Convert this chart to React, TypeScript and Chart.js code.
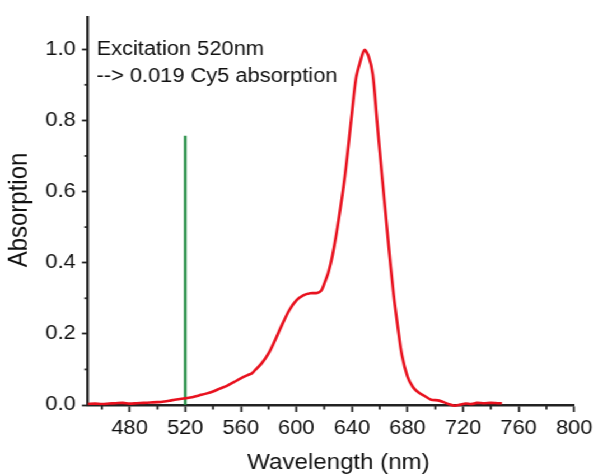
import { useEffect, useRef } from 'react';
import { Chart, registerables } from 'chart.js';

Chart.register(...registerables);

// ---- data ----
const wavelengths = [
  450, 455, 460, 465, 470, 475, 480, 485, 490, 495, 500, 505, 510, 515, 520, 525, 530, 535, 540,
  545, 550, 555, 560, 565, 568, 570, 575, 580, 585, 590, 595, 600, 605, 610, 615, 618, 620, 623,
  626, 630, 635, 640, 643, 646, 649, 652, 655, 658, 662, 666, 670, 673, 676, 680, 684, 688, 692,
  697, 702, 706, 710, 714, 718, 722, 726, 730, 735, 740, 745, 748,
];
const absorption = [
  0.003, 0.004, 0.003, 0.004, 0.005, 0.006, 0.004, 0.005, 0.006, 0.007, 0.008, 0.01, 0.013, 0.016,
  0.019, 0.022, 0.027, 0.032, 0.038, 0.046, 0.054, 0.064, 0.075, 0.084, 0.089, 0.097, 0.117,
  0.145, 0.185, 0.228, 0.267, 0.294, 0.308, 0.314, 0.315, 0.322, 0.34, 0.372, 0.42, 0.51, 0.645,
  0.82, 0.92, 0.965, 0.998, 0.98, 0.93, 0.8, 0.63, 0.465, 0.31, 0.22, 0.14, 0.08, 0.05, 0.035,
  0.026, 0.015, 0.013, 0.008, 0.002, -0.002, 0.001, 0.004, 0.003, 0.006, 0.005, 0.006, 0.005,
  0.005,
];
const excitationX = [520, 520];
const excitationY = [0, 0.757];

const xTickValues = [480, 520, 560, 600, 640, 680, 720, 760, 800];
const xMinorTicks = [460, 500, 540, 580, 620, 660, 700, 740, 780];
const yTickValues = [0, 0.2, 0.4, 0.6, 0.8, 1.0];
const yMinorTicks = [0.1, 0.3, 0.5, 0.7, 0.9];
const annotationLines = ['Excitation 520nm', '--> 0.019 Cy5 absorption'];
const xTitle = 'Wavelength (nm)';
const yTitle = 'Absorption';

const SX = 1.12;
const W = Math.round(598 / SX);
const H = 476;
const FONT = "'Liberation Sans', Arial, sans-serif";
const AXIS = '#222222';
const TEXT = '#111111';

const decorPlugin = {
  id: 'decor',
  afterDraw(chart: any) {
    const ctx = chart.ctx;
    const xs = chart.scales.x;
    const ys = chart.scales.y;
    const ca = chart.chartArea;
    ctx.save();
    ctx.strokeStyle = AXIS;
    ctx.lineWidth = 1.8;
    xMinorTicks.forEach((v) => {
      const px = xs.getPixelForValue(v);
      ctx.beginPath();
      ctx.moveTo(px, ca.bottom);
      ctx.lineTo(px, ca.bottom + 4.5);
      ctx.stroke();
    });
    yMinorTicks.forEach((v) => {
      const py = ys.getPixelForValue(v);
      ctx.beginPath();
      ctx.moveTo(ca.left, py);
      ctx.lineTo(ca.left - 3.5 / SX, py);
      ctx.stroke();
    });
    ctx.fillStyle = TEXT;
    ctx.font = `19.5px ${FONT}`;
    ctx.textBaseline = 'middle';
    ctx.textAlign = 'left';
    annotationLines.forEach((t, i) => {
      ctx.fillText(t, 96.5 / SX, 49.5 + i * 27.5);
    });
    // axis titles
    ctx.font = `21.5px ${FONT}`;
    ctx.textAlign = 'center';
    ctx.fillText(xTitle, 338.5 / SX, 463);
    ctx.save();
    ctx.translate(20 / SX, 210);
    ctx.rotate(-Math.PI / 2);
    ctx.font = `24px ${FONT}`;
    ctx.fillText(yTitle, 0, 0);
    ctx.restore();
    ctx.restore();
  },
};

export default function App() {
  const ref = useRef<HTMLCanvasElement>(null);
  useEffect(() => {
    if (!ref.current) return;
    const chart = new Chart(ref.current, {
      type: 'line',
      data: {
        datasets: [
          {
            data: wavelengths.map((x, i) => ({ x, y: absorption[i] })),
            borderColor: '#e8121f',
            borderWidth: 2.6,
            pointRadius: 0,
            tension: 0.3,
            fill: false,
            clip: 8,
          } as any,
          {
            data: excitationX.map((x, i) => ({ x, y: excitationY[i] })),
            borderColor: '#1d8a3e',
            borderWidth: 2.3,
            pointRadius: 0,
            fill: false,
          },
        ],
      },
      options: {
        animation: false,
        responsive: false,
        maintainAspectRatio: false,
        layout: { padding: { top: 14, right: W - 575 / SX, left: 0, bottom: 0 } },
        plugins: { legend: { display: false }, tooltip: { enabled: false } },
        scales: {
          x: {
            type: 'linear',
            min: 450,
            max: 800,
            afterBuildTicks: (s: any) => {
              s.ticks = xTickValues.map((value) => ({ value }));
            },
            afterFit: (s: any) => {
              s.height = H - 405;
            },
            grid: { drawOnChartArea: false, drawTicks: true, tickLength: 7, tickColor: AXIS, tickWidth: 1.8 },
            border: { display: true, color: AXIS, width: 2.4 },
            ticks: {
              color: TEXT,
              font: { family: FONT, size: 19.5 },
              padding: 5,
              maxRotation: 0,
              autoSkip: false,
              callback: (v: any) => String(v),
            },
            title: { display: false },
          },
          y: {
            type: 'linear',
            min: 0,
            max: 1.09,
            afterBuildTicks: (s: any) => {
              s.ticks = yTickValues.map((value) => ({ value }));
            },
            afterFit: (s: any) => {
              s.width = 88 / SX;
            },
            grid: { drawOnChartArea: false, drawTicks: true, tickLength: 5.4, tickColor: AXIS, tickWidth: 1.8 },
            border: { display: true, color: AXIS, width: 2.4 },
            ticks: {
              color: TEXT,
              font: { family: FONT, size: 19.5 },
              padding: 5.5,
              autoSkip: false,
              callback: (v: any) => Number(v).toFixed(1),
            },
            title: { display: false },
          },
        },
      },
      plugins: [decorPlugin],
    });
    return () => chart.destroy();
  }, []);

  return (
    <div
      style={{
        position: 'absolute',
        left: 0,
        top: 0,
        width: W,
        height: H,
        transform: `scaleX(${598 / W})`,
        transformOrigin: '0 0',
        background: '#fff',
      }}
    >
      <canvas ref={ref} width={W} height={H} style={{ width: W, height: H, display: 'block' }} />
    </div>
  );
}
